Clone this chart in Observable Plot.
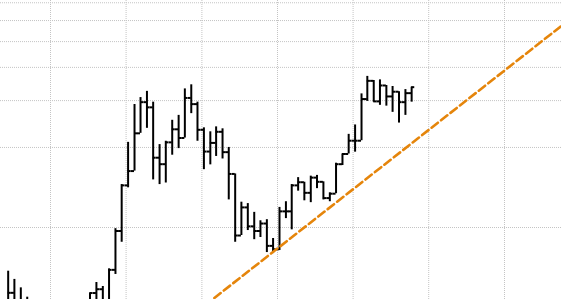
<!DOCTYPE html>
<html>
<head>
<meta charset="utf-8">
<script src="https://cdn.jsdelivr.net/npm/d3@7"></script>
<script src="https://cdn.jsdelivr.net/npm/@observablehq/plot@0.6"></script>
<style>
  html, body { margin: 0; padding: 0; background: #fff; }
  #chart { width: 561px; height: 299px; overflow: hidden; }
</style>
</head>
<body>
<div id="chart"></div>
<script>
// Monthly OHLC bars
const months = [
  "2002-06","2002-07","2002-08","2002-09","2002-10","2002-11","2002-12",
  "2003-01","2003-02","2003-03","2003-04","2003-05","2003-06","2003-07","2003-08","2003-09","2003-10","2003-11","2003-12",
  "2004-01","2004-02","2004-03","2004-04","2004-05","2004-06","2004-07","2004-08","2004-09","2004-10","2004-11","2004-12",
  "2005-01","2005-02","2005-03","2005-04","2005-05","2005-06","2005-07","2005-08","2005-09","2005-10","2005-11","2005-12",
  "2006-01","2006-02","2006-03","2006-04","2006-05","2006-06","2006-07","2006-08","2006-09","2006-10","2006-11","2006-12",
  "2007-01","2007-02","2007-03","2007-04","2007-05","2007-06","2007-07","2007-08","2007-09","2007-10"
];
const openV = [
  5.22,5.68,5.18,5.09,4.96,4.79,5.05,
  4.87,4.63,4.79,4.96,5.13,5.05,5.22,5.67,5.86,5.27,6.93,9.7,
  14.4,16.3,22.6,29.6,28.3,18.3,17.3,20.9,23.4,21.7,30.7,29.1,
  23.3,19.3,20.8,22.9,19.2,15.9,9.33,11.9,10.1,9.7,10.35,8.53,
  8.28,11.5,11.5,14.4,14.8,13.5,15.4,14.85,12.9,13.4,17.3,18.9,
  21.2,21.2,30.4,35.6,29.8,34.2,31.1,32.4,29.6,32.0
];
const highV = [
  6.85,6.38,5.93,5.47,5.31,5.22,5.27,
  5.18,5.09,5.22,5.27,5.31,5.31,5.67,6.21,6.0,6.99,9.9,14.5,
  20.9,29.0,30.8,32.5,29.6,20.5,21.1,25.3,26.4,33.2,34.4,29.6,
  23.7,22.9,23.9,23.5,20.0,15.9,12.45,12.3,11.4,10.6,10.7,9.09,
  11.9,12.5,14.5,15.4,14.8,15.6,15.7,14.85,13.5,17.45,18.9,22.4,
  24.3,31.8,37.0,35.7,35.9,34.2,33.9,32.4,33.0,33.7
];
const lowV = [
  5.09,5.09,4.87,4.79,4.55,4.47,4.67,
  4.39,4.28,4.55,4.71,4.79,4.87,5.13,5.27,5.18,5.18,6.66,8.8,
  14.1,16.3,22.6,23.6,15.1,14.5,14.7,18.7,19.8,21.7,26.8,21.1,
  16.5,17.2,18.5,18.1,12.7,8.8,9.33,9.74,9.0,9.17,8.05,7.98,
  8.19,10.8,9.8,13.7,12.6,12.4,14.0,12.7,12.5,13.4,17.1,18.9,
  19.2,21.2,29.8,29.6,28.8,28.6,27.1,24.7,26.4,29.6
];
const closeV = [
  5.68,5.18,5.09,4.96,4.79,5.05,4.87,
  4.63,4.79,4.96,5.13,5.05,5.22,5.67,5.86,5.27,6.93,9.7,14.4,
  16.3,22.6,29.6,28.3,18.3,17.3,20.9,23.4,21.7,30.7,29.1,23.3,
  19.3,20.8,22.9,19.2,15.9,9.33,11.9,10.1,9.7,10.35,8.53,8.28,
  11.5,11.5,14.4,14.8,13.5,15.4,14.85,12.9,13.4,17.3,18.9,21.2,
  21.2,30.4,35.6,29.8,34.2,31.1,32.4,29.6,32.0,33.7
];

// Trend line (two anchor points, drawn straight on the log scale)
const trendDates = ["2004-12","2009-12"];
const trendValues = [4.78, 62.25];

// Grid ticks
const yTicks = [10, 20, 30, 40, 50, 60, 70];
const yearTicks = ["2003","2004","2005","2006","2007","2008","2009"];

const parseM = d3.utcParse("%Y-%m");
const parseY = d3.utcParse("%Y");

const bars = months.map((m, i) => ({
  date: parseM(m), open: openV[i], high: highV[i], low: lowV[i], close: closeV[i]
}));
const trend = trendDates.map((m, i) => ({date: parseM(m), value: trendValues[i]}));
const years = yearTicks.map(parseY);

const half = 15; // days for the open/close tick length
const barStyle = {stroke: "#000", strokeWidth: 2, dx: 2, clip: true};

const chart = Plot.plot({
  width: 561,
  height: 299,
  margin: 0,
  style: {background: "#fff"},
  x: {type: "utc", domain: [parseY("2003"), parseY("2009")], range: [50, 504], axis: null},
  y: {type: "log", domain: [10, 70], range: [227, 2.25], axis: null},
  marks: [
    Plot.ruleY(yTicks, {stroke: "#c4c4c4", strokeWidth: 1, strokeDasharray: "1,1", clip: true}),
    Plot.ruleX(years, {stroke: "#c4c4c4", strokeWidth: 1, strokeDasharray: "1,1", clip: true}),
    Plot.ruleX(bars, {x: "date", y1: "low", y2: "high", ...barStyle}),
    Plot.ruleY(bars, {y: "open", x1: d => d3.utcDay.offset(d.date, -half), x2: "date", ...barStyle}),
    Plot.ruleY(bars, {y: "close", x1: "date", x2: d => d3.utcDay.offset(d.date, half), ...barStyle}),
    Plot.line(trend, {x: "date", y: "value", stroke: "#e5850b", strokeWidth: 2.6, strokeDasharray: "8,4", clip: true})
  ]
});
document.getElementById("chart").appendChild(chart);
</script>
</body>
</html>
